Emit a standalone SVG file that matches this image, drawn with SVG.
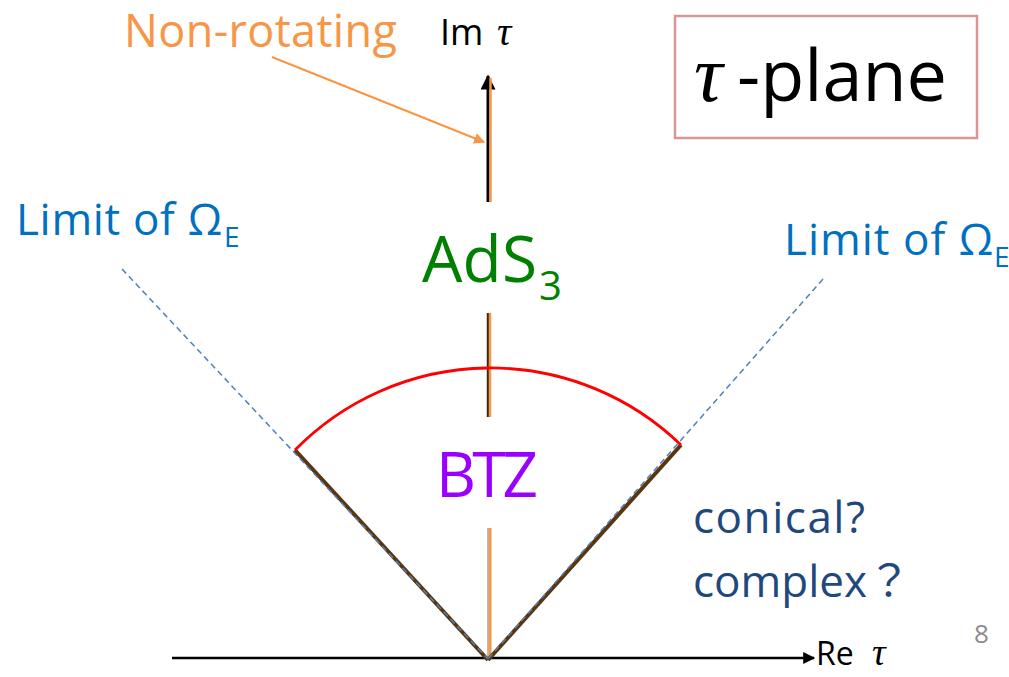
<svg xmlns="http://www.w3.org/2000/svg" width="1009" height="677" viewBox="0 0 1009 677">
<defs>
<style>
text{font-family:"Open Sans","Noto Sans",sans-serif}
.tau{font-family:"Liberation Serif","DejaVu Serif",serif;font-style:italic}
.blue{fill:#0070c0}
.navy{fill:#1f497d}
</style>
<marker id="ahBlack" viewBox="0 0 10 10" refX="9" refY="5" markerWidth="5.5" markerHeight="5" markerUnits="strokeWidth" orient="auto"><path d="M0,0 L10,5 L0,10 z" fill="#000"/></marker>
<marker id="ahOrange" viewBox="0 0 10 10" refX="9" refY="5" markerWidth="5" markerHeight="5" markerUnits="strokeWidth" orient="auto"><path d="M0,0 L10,5 L0,10 z" fill="#f79646"/></marker>
</defs>
<rect width="1009" height="677" fill="#fff"/>
<g id="connectors">
  <line x1="172" y1="658" x2="814" y2="658" stroke="#000" stroke-width="2.4" marker-end="url(#ahBlack)"/>
  <line x1="488" y1="202" x2="488" y2="76" stroke="#000" stroke-width="3" marker-end="url(#ahBlack)"/>
  <line x1="490.5" y1="202" x2="490.5" y2="78" stroke="#f79646" stroke-width="2.5"/>
  <line x1="488" y1="313" x2="488" y2="417" stroke="#3a2a1a" stroke-width="2.5"/>
  <line x1="490" y1="313" x2="490" y2="417" stroke="#f79646" stroke-width="2.5"/>
  <line x1="488" y1="528" x2="488" y2="659" stroke="#bbb" stroke-width="2"/>
  <line x1="490" y1="528" x2="490" y2="659" stroke="#f79646" stroke-width="3"/>
  <line x1="295" y1="450" x2="488" y2="660" stroke="#5a3610" stroke-width="4"/>
  <line x1="488" y1="660" x2="681" y2="445" stroke="#5a3610" stroke-width="4"/>
  <line x1="122" y1="269" x2="488" y2="659" stroke="#4f81bd" stroke-width="1.5" stroke-dasharray="6,4"/>
  <line x1="823" y1="279" x2="488" y2="659" stroke="#4f81bd" stroke-width="1.5" stroke-dasharray="6,4"/>
  <path d="M295,450 A274,274 0 0 1 681,445" fill="none" stroke="#ff0000" stroke-width="2.8"/>
  <line x1="272" y1="57" x2="484" y2="142" stroke="#f79646" stroke-width="2.2" marker-end="url(#ahOrange)"/>
</g>
<g id="label-nonrotating"><text x="124" y="47" font-size="45" fill="#f79646" textLength="273">Non-rotating</text></g>
<g id="label-im"><text x="440" y="45" font-size="36" fill="#000">Im</text><text x="497" y="45" font-size="40" class="tau">τ</text></g>
<g id="title"><rect x="675" y="16" width="302" height="122" fill="#fff" stroke="#d99694" stroke-width="2.5"/>
<text x="694" y="101" font-size="80" class="tau">τ</text><text x="737" y="101" font-size="72" fill="#000">-plane</text></g>
<g id="limit-left"><text x="16" y="235" font-size="44" class="blue" textLength="206">Limit of Ω</text><text x="224" y="247" font-size="28" class="blue">E</text></g>
<g id="limit-right"><text x="784" y="255" font-size="44" class="blue" textLength="209">Limit of Ω</text><text x="994" y="267" font-size="28" class="blue">E</text></g>
<g id="ads"><text x="422" y="282" font-size="64" fill="#008000" textLength="115">AdS</text><text x="539" y="300" font-size="40" fill="#008000">3</text></g>
<g id="btz"><text x="436" y="497" font-size="62" fill="#9900ff" textLength="102">BTZ</text></g>
<g id="unknown"><text x="693" y="533" font-size="44" class="navy" textLength="172">conical?</text>
<text x="693" y="597" font-size="44" class="navy" style="font-family:'Open Sans','Noto Sans CJK JP',sans-serif">complex？</text></g>
<g id="page"><text x="974" y="643" font-size="26" fill="#8c8c8c">8</text></g>
<g id="label-re"><text x="816" y="665" font-size="32" fill="#000">Re</text><text x="872" y="665" font-size="38" class="tau">τ</text></g>
</svg>
